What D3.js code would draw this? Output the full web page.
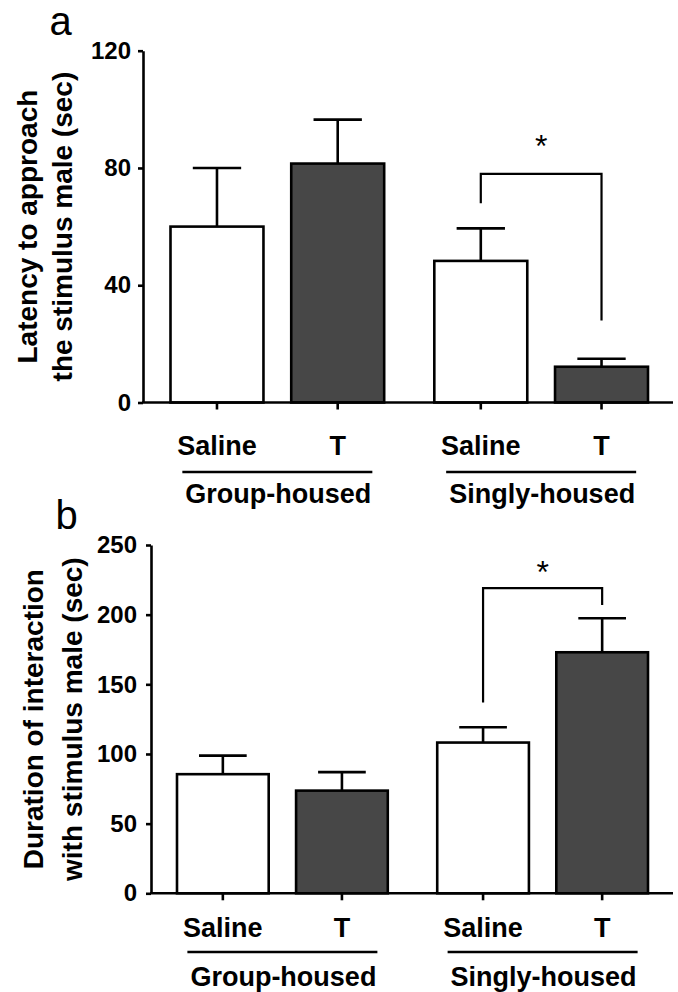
<!DOCTYPE html>
<html>
<head>
<meta charset="utf-8">
<script src="https://cdn.jsdelivr.net/npm/d3@7"></script>
<style>
  html, body { margin: 0; padding: 0; background: #fff; }
  svg text { font-family: "Liberation Sans", Arial, sans-serif; fill: #000; }
</style>
</head>
<body>
<div id="chart"></div>
<script>
// categories
var groups = ['Group-housed', 'Singly-housed'];
var treatments = ['Saline', 'T'];

// panel a: latency to approach (sec), order = GH Saline, GH T, SH Saline, SH T
var latencyMean = [60, 81.5, 48.3, 12.2];
var latencySem = [20, 15, 11.1, 2.7];
var latencyTicks = [0, 40, 80, 120];
// bracket: [left end, top, right end], star height
var latencyBracket = [68, 78, 28];
var latencyStar = 90;

// panel b: duration of interaction (sec)
var durationMean = [85.5, 73.7, 108.2, 173];
var durationSem = [13.3, 13.3, 11, 24.4];
var durationTicks = [0, 50, 100, 150, 200, 250];
var durationBracket = [137, 219, 207];
var durationStar = 235.6;

var W = 678, H = 992;
var darkFill = '#474747';

var svg = d3.select('#chart').append('svg')
  .attr('width', W)
  .attr('height', H);

function rows(means, sems) {
  var out = [];
  groups.forEach(function(g, gi) {
    treatments.forEach(function(t, ti) {
      var k = gi * treatments.length + ti;
      out.push({ group: g, treat: t, mean: means[k], sem: sems[k] });
    });
  });
  return out;
}

function drawPanel(p) {
  var g = svg.append('g');

  var y = d3.scaleLinear().domain([0, p.yMax]).range([p.y0, p.y1]);
  var x0 = d3.scaleBand().domain(groups).range([p.xLeft, p.xRight]).paddingInner(0.19);
  var x1 = d3.scaleBand().domain(treatments).range([0, x0.bandwidth()]).paddingInner(0.23);
  var cx = function(d) { return x0(d.group) + x1(d.treat) + x1.bandwidth() / 2; };
  var capW = x1.bandwidth() * 0.52;

  var data = rows(p.mean, p.sem);

  // bars
  g.selectAll('rect.bar')
    .data(data)
    .enter().append('rect')
    .attr('class', 'bar')
    .attr('x', function(d) { return x0(d.group) + x1(d.treat); })
    .attr('y', function(d) { return y(d.mean); })
    .attr('width', x1.bandwidth())
    .attr('height', function(d) { return y(0) - y(d.mean); })
    .attr('fill', function(d) { return d.treat === 'T' ? darkFill : '#fff'; })
    .attr('stroke', '#000')
    .attr('stroke-width', 2.6);

  // error bars (upper only)
  var eb = g.selectAll('g.err').data(data).enter().append('g').attr('class', 'err')
    .attr('stroke', '#000').attr('stroke-width', 2.6);
  eb.append('line')
    .attr('x1', cx).attr('x2', cx)
    .attr('y1', function(d) { return y(d.mean); })
    .attr('y2', function(d) { return y(d.mean + d.sem); });
  eb.append('line')
    .attr('x1', function(d) { return cx(d) - capW / 2; })
    .attr('x2', function(d) { return cx(d) + capW / 2; })
    .attr('y1', function(d) { return y(d.mean + d.sem); })
    .attr('y2', function(d) { return y(d.mean + d.sem); });

  // y axis
  var yAxis = d3.axisLeft(y)
    .tickValues(p.ticks)
    .tickSize(5)
    .tickSizeOuter(0)
    .tickPadding(p.tickPad);
  var ya = g.append('g')
    .attr('transform', 'translate(' + p.axisX + ',0)')
    .call(yAxis);
  ya.select('.domain').attr('stroke-width', 2.6);
  ya.selectAll('.tick line').attr('stroke-width', 2.6);
  ya.selectAll('.tick text')
    .attr('font-family', null)
    .style('font-size', '24px')
    .style('font-weight', 'bold');

  // x baseline + ticks
  g.append('line')
    .attr('x1', p.axisX - 1).attr('x2', p.axisEnd)
    .attr('y1', y(0)).attr('y2', y(0))
    .attr('stroke', '#000').attr('stroke-width', 2.6);
  g.selectAll('line.xt')
    .data(data)
    .enter().append('line')
    .attr('class', 'xt')
    .attr('x1', cx).attr('x2', cx)
    .attr('y1', y(0)).attr('y2', y(0) + 7)
    .attr('stroke', '#000').attr('stroke-width', 2.6);

  // treatment labels
  g.selectAll('text.treat')
    .data(data)
    .enter().append('text')
    .attr('class', 'treat')
    .attr('x', cx)
    .attr('y', y(0) + p.treatDy)
    .attr('text-anchor', 'middle')
    .style('font-size', '27px')
    .style('font-weight', 'bold')
    .text(function(d) { return d.treat; });

  // group underline + labels
  var gc = function(d) { return x0(d) + x0.bandwidth() / 2; };
  g.selectAll('line.gline')
    .data(groups)
    .enter().append('line')
    .attr('class', 'gline')
    .attr('x1', function(d) { return gc(d) - 95; })
    .attr('x2', function(d) { return gc(d) + 95; })
    .attr('y1', y(0) + p.lineDy).attr('y2', y(0) + p.lineDy)
    .attr('stroke', '#000').attr('stroke-width', 2.6);
  g.selectAll('text.glab')
    .data(groups)
    .enter().append('text')
    .attr('class', 'glab')
    .attr('x', function(d) { return gc(d) + 1; })
    .attr('y', y(0) + p.groupDy)
    .attr('text-anchor', 'middle')
    .style('font-size', '27px')
    .style('font-weight', 'bold')
    .text(function(d) { return d; });

  // significance bracket between singly-housed bars
  var sL = cx(data[2]), sR = cx(data[3]);
  var b = p.bracket;
  g.append('path')
    .attr('d', 'M' + sL + ',' + y(b[0]) + 'V' + y(b[1]) + 'H' + sR + 'V' + y(b[2]))
    .attr('fill', 'none')
    .attr('stroke', '#000')
    .attr('stroke-width', 2.2);
  g.append('text')
    .attr('x', (sL + sR) / 2)
    .attr('y', y(p.star) + 18)
    .attr('text-anchor', 'middle')
    .style('font-size', '32px')
    .text('*');

  // y title (two lines)
  var midY = (p.y0 + p.y1) / 2;
  p.title.forEach(function(line, i) {
    g.append('text')
      .attr('transform', 'translate(' + p.titleX[i] + ',' + midY + ') rotate(-90)')
      .attr('text-anchor', 'middle')
      .style('font-size', '28px')
      .style('font-weight', 'bold')
      .text(line);
  });

  // panel letter
  g.append('text')
    .attr('x', p.letterX)
    .attr('y', p.letterY)
    .style('font-size', '40px')
    .text(p.letter);
}

drawPanel({
  letter: 'a', letterX: 49.5, letterY: 35,
  mean: latencyMean, sem: latencySem, ticks: latencyTicks, yMax: 120,
  y0: 402.5, y1: 50.7,
  axisX: 143, axisEnd: 673, xLeft: 170.5, xRight: 648,
  tickPad: 7,
  treatDy: 52.5, lineDy: 69.5, groupDy: 100.5,
  bracket: latencyBracket, star: latencyStar,
  title: ['Latency to approach', 'the stimulus male (sec)'],
  titleX: [37, 72]
});

drawPanel({
  letter: 'b', letterX: 55.5, letterY: 529,
  mean: durationMean, sem: durationSem, ticks: durationTicks, yMax: 250,
  y0: 893.3, y1: 545,
  axisX: 151, axisEnd: 673, xLeft: 177, xRight: 648,
  tickPad: 9,
  treatDy: 43.4, lineDy: 58.7, groupDy: 92.7,
  bracket: durationBracket, star: durationStar,
  title: ['Duration of interaction', 'with stimulus male (sec)'],
  titleX: [43.3, 81.7]
});
</script>
</body>
</html>
